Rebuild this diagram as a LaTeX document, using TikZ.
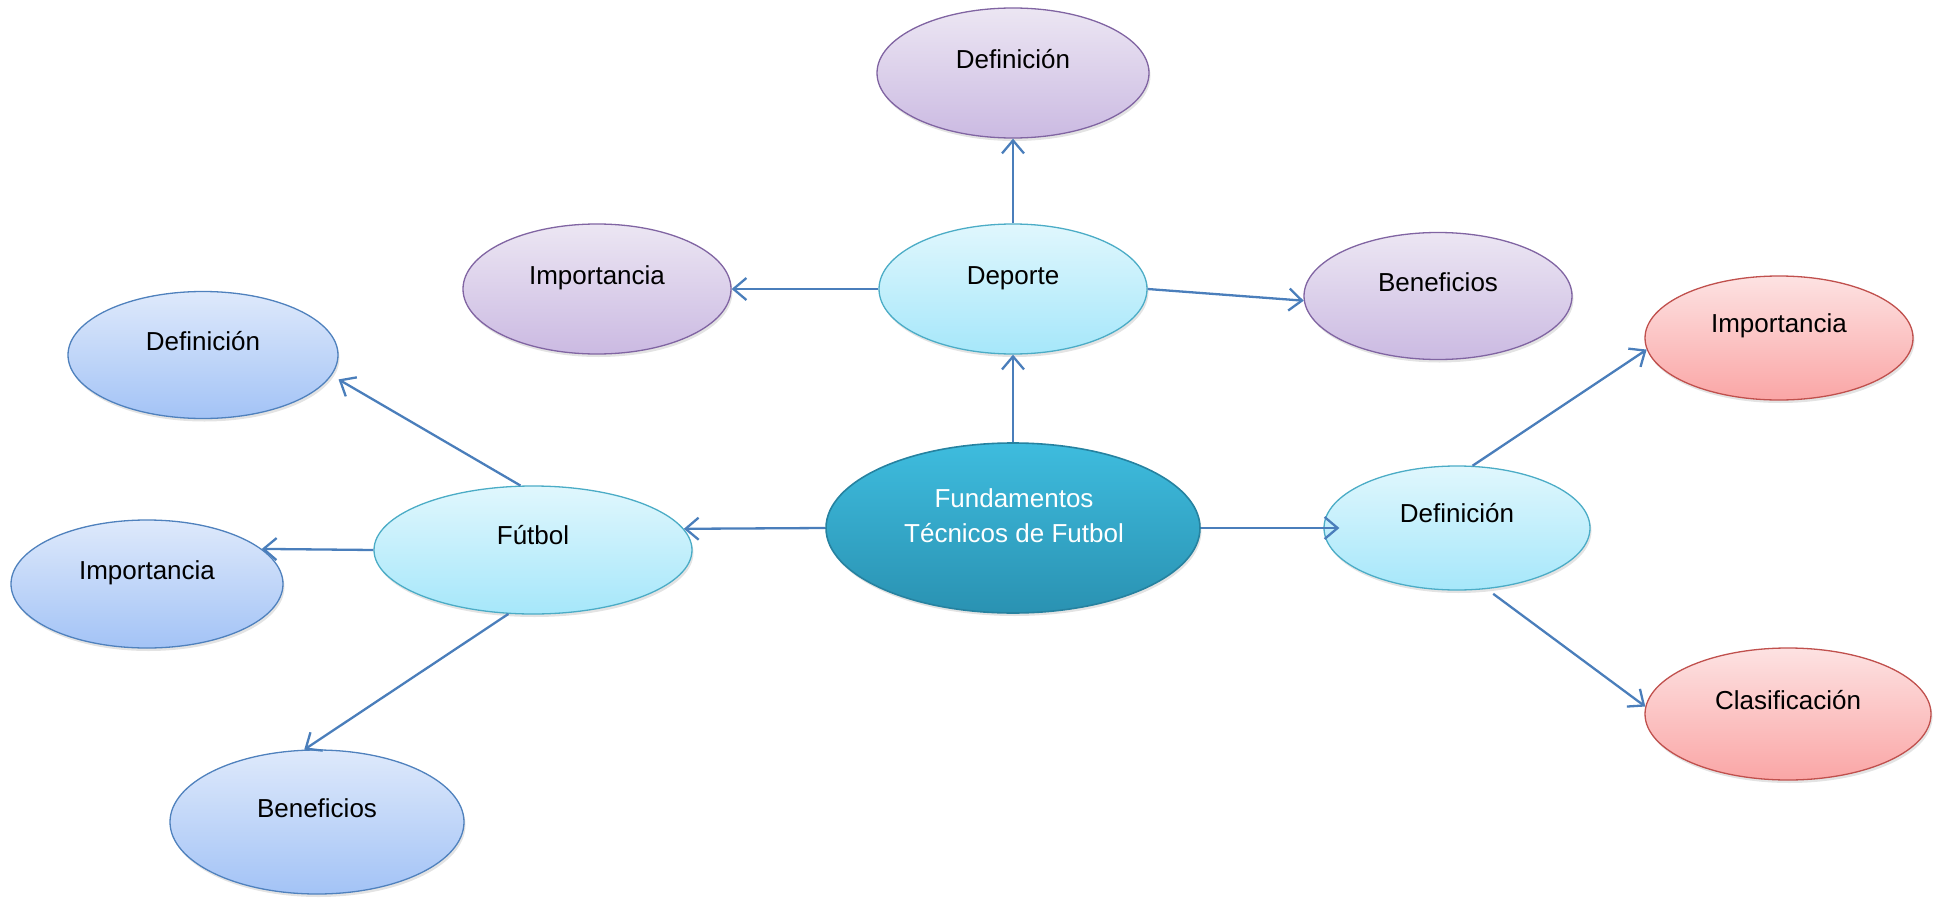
\documentclass[tikz,border=0pt]{standalone}
\usepackage{fontspec}
\setmainfont{Liberation Sans}
\usetikzlibrary{shapes.geometric,shadows,arrows.meta,calc}
\definecolor{arrowc}{RGB}{74,126,187}
\definecolor{cyanD}{RGB}{75,172,198}
\definecolor{cyanT}{RGB}{224,247,253}
\definecolor{cyanB}{RGB}{166,231,250}
\definecolor{purD}{RGB}{128,100,162}
\definecolor{purT}{RGB}{236,230,243}
\definecolor{purB}{RGB}{203,186,226}
\definecolor{bluD}{RGB}{79,129,189}
\definecolor{bluT}{RGB}{222,233,251}
\definecolor{bluB}{RGB}{163,195,246}
\definecolor{redD}{RGB}{192,80,77}
\definecolor{redT}{RGB}{253,226,226}
\definecolor{redB}{RGB}{250,166,166}
\definecolor{cenD}{RGB}{38,130,160}
\definecolor{cenT}{RGB}{62,188,222}
\definecolor{cenB}{RGB}{42,146,178}
\begin{document}
\begin{tikzpicture}[x=1pt,y=-1pt,
  base/.style={ellipse, inner sep=0pt, line width=1.3pt,
    drop shadow={shadow xshift=1.5pt,shadow yshift=-3pt,opacity=0.22}},
  cyanbox/.style={base, draw=cyanD, top color=cyanT, bottom color=cyanB},
  purbox/.style={base, draw=purD, top color=purT, bottom color=purB},
  blubox/.style={base, draw=bluD, top color=bluT, bottom color=bluB},
  redbox/.style={base, draw=redD, top color=redT, bottom color=redB},
  cenbox/.style={base, draw=cenD, line width=1.6pt, top color=cenT, bottom color=cenB},
  lbl/.style={font=\fontsize{26}{35}\selectfont, text height=19pt, text depth=0pt, inner sep=0pt},
  conn/.style={draw=arrowc, line width=2.3pt, -{Straight Barb[length=13pt,width=22pt]}}
]
\useasboundingbox (0,0) rectangle (1944,899);

% nodes
\node[cenbox, minimum width=374pt, minimum height=170pt] (cen) at (1013,528) {};
\node[font=\fontsize{26}{35}\selectfont, align=center, text=white, inner sep=0pt] (cenT) at (1014,516) {Fundamentos\\Técnicos de Futbol};

\node[cyanbox, minimum width=268pt, minimum height=130pt] (dep) at (1013,289) {};
\node[lbl] (depT) at (1013,275) {Deporte};
\node[purbox, minimum width=272pt, minimum height=130pt] (depdef) at (1013,73) {};
\node[lbl] (depdefT) at (1013,59) {Definición};
\node[purbox, minimum width=268pt, minimum height=130pt] (impP) at (597,289) {};
\node[lbl] (impPT) at (597,275) {Importancia};
\node[purbox, minimum width=268pt, minimum height=127pt] (benP) at (1438,296) {};
\node[lbl] (benPT) at (1438,282) {Beneficios};

\node[cyanbox, minimum width=318pt, minimum height=128pt] (fut) at (533,550) {};
\node[lbl] (futT) at (533,535) {Fútbol};
\node[blubox, minimum width=270pt, minimum height=127pt] (defB) at (203,355) {};
\node[lbl] (defBT) at (203,341) {Definición};
\node[blubox, minimum width=272pt, minimum height=128pt] (impB) at (147,584) {};
\node[lbl] (impBT) at (147,570) {Importancia};
\node[blubox, minimum width=294pt, minimum height=144pt] (benB) at (317,822) {};
\node[lbl] (benBT) at (317,808) {Beneficios};

\node[cyanbox, minimum width=266pt, minimum height=124pt] (defR) at (1457,528) {};
\node[lbl] (defRT) at (1457,513) {Definición};
\node[redbox, minimum width=268pt, minimum height=124pt] (impR) at (1779,338) {};
\node[lbl] (impRT) at (1779,323) {Importancia};
\node[redbox, minimum width=286pt, minimum height=132pt] (clas) at (1788,714) {};
\node[lbl] (clasT) at (1788,700) {Clasificación};

% connectors
\draw[conn] (cen.90) -- (dep.270);
\draw[conn] (dep.90) -- (depdef.270);
\draw[conn] (dep.180) -- (impP.0);
\draw[conn] (dep.0) -- (benP.182);
\draw[conn] (cen.180) -- (fut.8);
\draw[conn, shorten >=-16pt] (cen.0) -- (defR.180);
\draw[conn, shorten >=8pt] (fut.101) -- (defB.-9);
\draw[conn] (fut.180) -- (impB.17);
\draw[conn] (fut.249) -- (benB.100);
\draw[conn] (defR.76) -- (impR.185);
\draw[conn, shorten <=8pt] (defR.-64) -- (clas.177);
\end{tikzpicture}
\end{document}
